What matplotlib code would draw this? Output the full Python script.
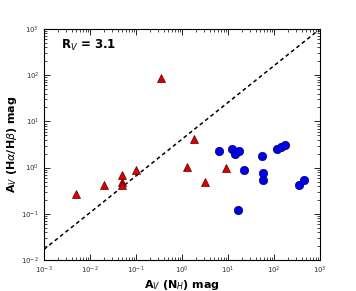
import matplotlib
matplotlib.use("Agg")
import matplotlib.pyplot as plt
import numpy as np

# Red triangles
tri_x = [0.005, 0.02, 0.05, 0.05, 0.05, 0.1, 0.355, 1.8, 1.29, 3.2, 8.9]
tri_y = [0.27, 0.41, 0.70, 0.48, 0.41, 0.90, 88.0, 4.1, 1.05, 0.48, 0.96]

# Blue circles
circ_x = [6.4, 12.2, 14.4, 17.3, 16.7, 22.3, 55.7, 57.5, 57.5, 117, 142, 171, 355, 442]
circ_y = [2.32, 2.53, 1.94, 2.32, 0.12, 0.90, 1.78, 0.78, 0.53, 2.53, 2.84, 3.03, 0.43, 0.54]

# Dashed reference line endpoints
line_x = [1e-3, 1e3]
line_y = [0.017, 1e3]

fig = plt.figure(figsize=(3.56, 2.91), dpi=100)
ax = fig.add_axes([44/356, 1 - 260/291, 276/356, 231/291])

ax.plot(line_x, line_y, 'k--', lw=1.1, dashes=(2.5, 2))
ax.plot(tri_x, tri_y, '^', color='#dd0000', mec='#550000', mew=0.5, ms=5.5, ls='none')
ax.plot(circ_x, circ_y, 'o', color='#0000ee', mec='#000066', mew=0.5, ms=6, ls='none')

ax.set_xscale('log')
ax.set_yscale('log')
ax.set_xlim(1e-3, 1e3)
ax.set_ylim(1e-2, 1e3)

ax.tick_params(which='both', direction='in', top=True, right=True, labelsize=5, labelcolor='#333333')
ax.tick_params(which='major', length=4, width=0.6)
ax.tick_params(which='minor', length=2, width=0.5)
for s in ax.spines.values():
    s.set_linewidth(0.8)

ax.set_xlabel(r'$\mathbf{A}_{V}$ $\mathbf{(N}_{H}\mathbf{)}$ mag', fontsize=8, fontweight='bold', labelpad=1)
ax.set_ylabel(r'$\mathbf{A}_{V}$ $\mathbf{(H}\alpha\mathbf{/H}\beta\mathbf{)}$ mag', fontsize=8, fontweight='bold', labelpad=2)
ax.text(0.06, 0.93, r'$\mathbf{R}_{V}$ = 3.1', transform=ax.transAxes, fontsize=8.5, fontweight='bold', va='center')

fig.savefig('out.png', dpi=100)
